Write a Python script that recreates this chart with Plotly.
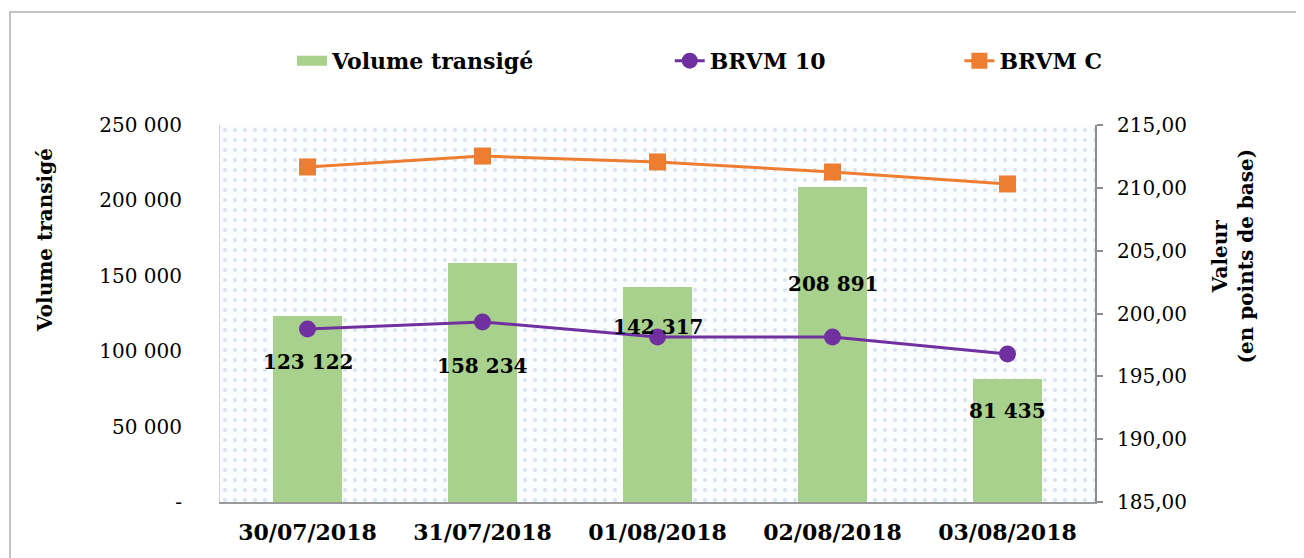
import plotly.graph_objects as go

dates = ["30/07/2018", "31/07/2018", "01/08/2018", "02/08/2018", "03/08/2018"]
volume = [123122, 158234, 142317, 208891, 81435]
brvm10 = [198.77, 199.33, 198.13, 198.13, 196.78]
brvmc = [211.66, 212.53, 212.06, 211.26, 210.31]
label_y = [92800, 90200, 116000, 144600, 60300]

left_ticks = [0, 50000, 100000, 150000, 200000, 250000]
left_ticktext = ["-", "50 000", "100 000", "150 000", "200 000", "250 000"]
right_ticks = [185, 190, 195, 200, 205, 210, 215]
right_ticktext = ["185,00", "190,00", "195,00", "200,00", "205,00", "210,00", "215,00"]
LEFT_RANGE = [0, 250000]
RIGHT_RANGE = [185, 215]

GREEN = "#a9d18e"
PURPLE = "#7030a0"
ORANGE = "#ed7d31"
SERIF = "DejaVu Serif"

def fmt(v):
    return f"{v:,}".replace(",", " ")

fig = go.Figure()
# dotted background texture of the plot area (one tile per category)
fig.add_trace(go.Bar(
    x=dates, y=[LEFT_RANGE[1]] * len(dates), width=1, showlegend=False, hoverinfo="skip",
    marker=dict(color="white", line=dict(width=0),
                pattern=dict(shape=".", fgcolor="#b3cae6", bgcolor="#fcfdfe", size=10, solidity=0.14)),
))
fig.add_trace(go.Bar(
    x=dates, y=volume, name="Volume transigé", marker=dict(color=GREEN, line=dict(width=0)),
    width=0.39, showlegend=False,
))
# legend entry for the volume (wide box like the original)
fig.add_trace(go.Scatter(
    x=[None], y=[None], mode="lines", name="Volume transigé",
    line=dict(color=GREEN, width=15), legend="legend",
))
fig.add_trace(go.Scatter(
    x=dates, y=brvm10, name="BRVM 10", mode="lines+markers", yaxis="y2",
    line=dict(color=PURPLE, width=3), marker=dict(symbol="circle", size=17, color=PURPLE),
    legend="legend2",
))
fig.add_trace(go.Scatter(
    x=dates, y=brvmc, name="BRVM C", mode="lines+markers", yaxis="y2",
    line=dict(color=ORANGE, width=3), marker=dict(symbol="square", size=17, color=ORANGE),
    legend="legend3",
))

for d, v, ly in zip(dates, volume, label_y):
    fig.add_annotation(x=d, y=ly, xref="x", yref="y", text=f"<b>{fmt(v)}</b>",
                       showarrow=False, font=dict(family=SERIF, size=20, color="black"))

fig.add_annotation(x=-0.2, y=0.695, xref="paper", yref="paper", text="<b>Volume transigé</b>",
                   textangle=-90, showarrow=False, xanchor="center", yanchor="middle",
                   font=dict(family=SERIF, size=20, color="black"))
fig.add_annotation(x=1.158, y=0.652, xref="paper", yref="paper",
                   text="<b>Valeur<br>(en points de base)</b>",
                   textangle=-90, showarrow=False, xanchor="center", yanchor="middle",
                   font=dict(family=SERIF, size=20, color="black"))

# outer chart frame
fig.add_shape(type="rect", xref="paper", yref="paper", x0=-0.24, x1=1.234, y0=-0.16, y1=1.3,
              line=dict(color="#b0b0b0", width=1.5), fillcolor="rgba(0,0,0,0)", layer="below")

legend_common = dict(orientation="h", yanchor="middle", y=1.17, xanchor="left",
                     bgcolor="rgba(0,0,0,0)",
                     font=dict(family=SERIF, size=22, color="black", weight="bold"),
                     itemsizing="trace")

fig.update_layout(
    width=1296, height=550,
    margin=dict(l=212, r=209, t=117, b=56),
    paper_bgcolor="white",
    plot_bgcolor="white",
    barmode="overlay",
    bargap=0,
    font=dict(family=SERIF, size=20, color="black"),
    legend=dict(x=0.0823, **legend_common),
    legend2=dict(x=0.514, **legend_common),
    legend3=dict(x=0.845, **legend_common),
    xaxis=dict(
        type="category", showgrid=False, showline=True, linecolor="#9a9a9a", linewidth=1.5,
        tickfont=dict(family=SERIF, size=22, color="black", weight="bold"),
        ticks="", ticklabelstandoff=10,
    ),
    yaxis=dict(
        range=LEFT_RANGE, tickvals=left_ticks, ticktext=left_ticktext, showgrid=False,
        showline=True, linecolor="#d0d0d0", linewidth=1, ticks="", ticklabelstandoff=33,
        tickfont=dict(family=SERIF, size=20, color="black"), zeroline=False,
    ),
    yaxis2=dict(
        range=RIGHT_RANGE, tickvals=right_ticks, ticktext=right_ticktext, overlaying="y",
        side="right", showgrid=False, showline=True, linecolor="#8c8c8c", linewidth=2,
        ticks="outside", ticklen=6, tickcolor="#8c8c8c", tickwidth=2, ticklabelstandoff=10,
        tickfont=dict(family=SERIF, size=20, color="black"), zeroline=False,
    ),
)

fig.write_html("out.html")
